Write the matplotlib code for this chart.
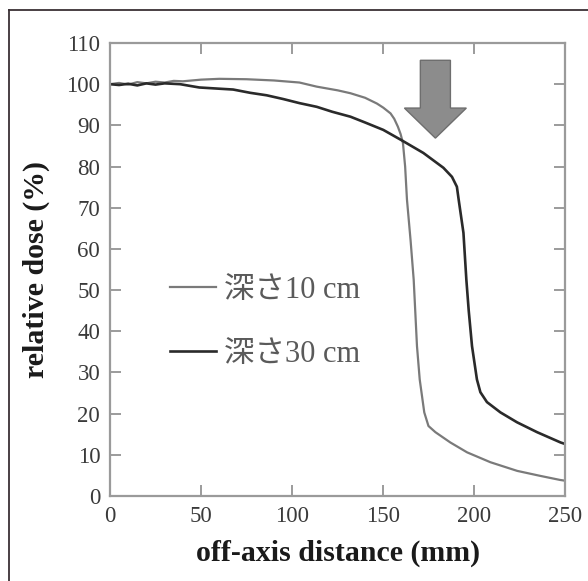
import matplotlib.pyplot as plt
from matplotlib.lines import Line2D
from matplotlib.patches import FancyArrow

# depth 10 cm profile
x_10 = [0, 5, 10, 15, 20, 25, 30, 35, 40, 50, 60, 75, 90, 104, 113.5, 125,
        132, 140, 146.5, 150, 154, 156, 158, 159.5, 160.8, 162, 163, 165,
        166.7, 168.5, 170, 172.5, 174.8, 178.6, 186.8, 196, 208.8, 223.5,
        236, 247, 250]
y_10 = [100, 100.3, 99.9, 100.5, 100.2, 100.6, 100.4, 100.8, 100.7, 101.1,
        101.3, 101.2, 100.9, 100.4, 99.4, 98.5, 97.8, 96.7, 95.3, 94.3, 92.9,
        91.6, 89.7, 87.9, 85.7, 80, 72, 62, 52.5, 36.4, 28.3, 20.3, 17, 15.5,
        13, 10.6, 8.2, 6.1, 4.9, 3.9, 3.7]

# depth 30 cm profile
x_30 = [0, 5, 10, 15, 20, 25, 30, 38.5, 45, 49, 60, 67.6, 77, 86, 95, 104,
        113.5, 122, 132, 140, 150, 160, 172, 183, 187.7, 190.4, 191.4, 194,
        195.6, 196.9, 198.7, 201.4, 203.3, 206.9, 214.3, 223.4, 234.4, 247.3,
        250]
y_30 = [100, 99.8, 100.1, 99.7, 100.2, 99.9, 100.2, 100, 99.5, 99.2, 98.9,
        98.7, 97.9, 97.3, 96.4, 95.4, 94.5, 93.3, 92.1, 90.7, 88.9, 86.4,
        83.3, 79.7, 77.5, 75.1, 71.9, 63.9, 52.5, 45, 36.4, 28.3, 25.2, 22.8,
        20.3, 17.9, 15.5, 13, 12.6]

labels = ['深さ10 cm', '深さ30 cm']
x_ticks = [0, 50, 100, 150, 200, 250]
y_ticks = list(range(0, 111, 10))

# arrow marking the penumbra
arrow_x = 178.6
arrow_top = 105.8
arrow_len = 18.9

serif = ['Liberation Serif', 'DejaVu Serif']

fig = plt.figure(figsize=(5.88, 5.81), dpi=100)
ax = fig.add_axes([0.187, 0.1463, 0.7747, 0.7797])

ax.plot(x_10, y_10, color='#7a7a7a', lw=1.6, label=labels[0])
ax.plot(x_30, y_30, color='#2a2a2a', lw=1.9, label=labels[1])

ax.add_patch(FancyArrow(arrow_x, arrow_top, 0, -arrow_len, width=16.5,
                        head_width=34, head_length=7.3,
                        length_includes_head=True, facecolor='#8c8c8c',
                        edgecolor='#6e6e6e', lw=1.0, zorder=3))

ax.set_xlim(0, 250)
ax.set_ylim(0, 110)
ax.set_xticks(x_ticks)
ax.set_yticks(y_ticks)
ax.tick_params(direction='in', length=8, width=1.2, color='#8a8a8a',
               top=True, right=True, labelsize=16.5, labelcolor='#3a3a3a',
               pad=7)
for lab in ax.get_xticklabels() + ax.get_yticklabels():
    lab.set_family(serif)
for sp in ax.spines.values():
    sp.set_color('#9a9a9a')
    sp.set_linewidth(1.6)

ax.set_xlabel('off-axis distance (mm)', family=serif, fontsize=21.5,
              fontweight='bold', color='#1a1a1a', labelpad=9)
ax.set_ylabel('relative dose (%)', family=serif, fontsize=21.5,
              fontweight='bold', color='#1a1a1a', labelpad=12)

leg = ax.legend(loc='upper left', bbox_to_anchor=(0.099, 0.52),
                frameon=False, handlelength=1.5, handletextpad=0.25,
                labelspacing=1.15, borderpad=0,
                prop={'family': ['Liberation Serif', 'Noto Sans CJK JP'],
                      'size': 22})
for t in leg.get_texts():
    t.set_color('#5a5a5a')

# outer frame: only top and left edges are visible
fig.add_artist(Line2D([9 / 588, 1], [1 - 10 / 581, 1 - 10 / 581],
                      color='#3a3035', lw=1.3))
fig.add_artist(Line2D([9 / 588, 9 / 588], [0, 1 - 10 / 581],
                      color='#3a3035', lw=1.3))

fig.savefig('out.png', dpi=100)
